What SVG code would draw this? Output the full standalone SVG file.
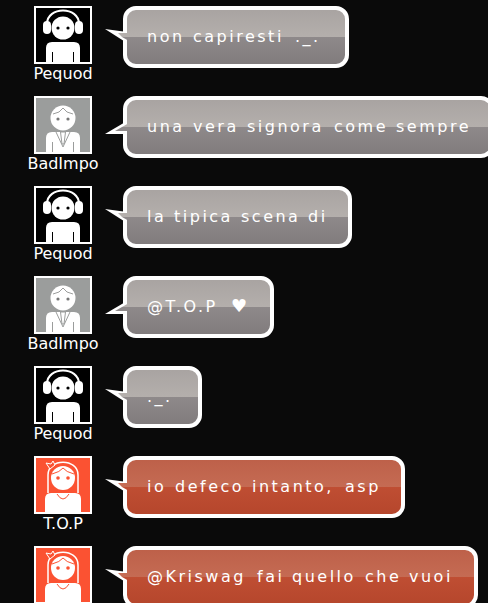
<svg xmlns="http://www.w3.org/2000/svg" width="488" height="603" viewBox="0 0 488 603">
<style>
.name{font:16px "DejaVu Sans",sans-serif;fill:#fff;text-anchor:middle}
.msg{font:16px "DejaVu Sans",sans-serif;fill:#fff;letter-spacing:2.500px}
.edge{stroke:#fff;stroke-width:4}
.gray{fill:url(#g)}
.red{fill:url(#r)}
.frame{stroke:#fff;stroke-width:2}
.gl{fill:#b4afac}.gd{fill:#8e898a}.rl{fill:#c56b53}.rd{fill:#bf4e33}
</style>
<defs>
<linearGradient id="g" x1="0" y1="0" x2="0" y2="1"><stop offset="0" stop-color="#a8a3a1"/><stop offset=".5" stop-color="#b4afac"/><stop offset=".5" stop-color="#8e898a"/><stop offset="1" stop-color="#807b7c"/></linearGradient>
<linearGradient id="r" x1="0" y1="0" x2="0" y2="1"><stop offset="0" stop-color="#bd6049"/><stop offset=".5" stop-color="#c56b53"/><stop offset=".5" stop-color="#bf4e33"/><stop offset="1" stop-color="#b5462c"/></linearGradient>
<g id="pq">
<rect x="35" y="7" width="56" height="56" fill="#000" class="frame"/>
<path d="M47 24C47 6 79 6 79 24" fill="none" stroke="#fff" stroke-width="2"/>
<rect x="43" y="21" width="8" height="13" rx="4" fill="#fff"/><rect x="75" y="21" width="8" height="13" rx="4" fill="#fff"/>
<circle cx="63" cy="28" r="11.500" fill="#fff"/><circle cx="58" cy="28" r="1.600"/><circle cx="68" cy="28" r="1.600"/>
<path d="M46 62V48Q46 42 52 42H74Q80 42 80 48V62Z" fill="#fff"/>
<path d="M52.500 52V62M73.500 52V62" stroke="#000" fill="none"/>
</g>
<g id="bi">
<rect x="35" y="7" width="56" height="56" fill="#9b9d9c" class="frame"/>
<circle cx="63" cy="28" r="12.500" fill="#fff"/><path d="M53 24Q60 23 63 18Q66 23 73 24" fill="none" stroke="#9b9d9c"/><circle cx="58" cy="29" r="1.600" fill="#777"/><circle cx="68" cy="29" r="1.600" fill="#777"/>
<path d="M46 62V48Q46 42 52 42H74Q80 42 80 48V62Z" fill="#fff"/>
<path d="M56 42L63 57L70 42M60.500 42H65.500L64 54H62ZM52.500 52V62M73.500 52V62" stroke="#9b9d9c" fill="none"/>
</g>
<g id="tp">
<rect x="35" y="7" width="56" height="56" fill="#fb5232" class="frame"/>
<path d="M48 43V25C48 8 78 8 78 25V43" fill="none" stroke="#fff" stroke-width="1.500"/>
<path d="M50 19L46 13L51 14L53 11L55 15Z" fill="#fb5232" stroke="#fff"/>
<circle cx="63" cy="28" r="12" fill="#fff"/><path d="M52 24Q60 22 63 18Q66 22 74 24" fill="none" stroke="#fb5232"/><circle cx="58" cy="28" r="1.800" fill="#fb5232"/><circle cx="68" cy="28" r="1.800" fill="#fb5232"/>
<path d="M45 62V49Q45 43 51 43H75Q81 43 81 49V62Z" fill="#fff"/>
<path d="M57 44Q63 54 69 44" fill="none" stroke="#fb5232"/>
</g>
<path id="tl" d="M105 29L127 32V43Z" fill="#fff"/>
<path id="tu" d="M105 44L127 31V44Z" fill="#fff"/>
<g id="lg"><path class="gl" d="M118 33H129V37H122Z"/><path class="gd" d="M122 37H129V41Z"/></g>
<g id="ug"><path class="gl" d="M122 37L129 33V37Z"/><path class="gd" d="M115 41L122 37H129V41Z"/></g>
<g id="lr"><path class="rl" d="M118 33H129V37H122Z"/><path class="rd" d="M122 37H129V41Z"/></g>
</defs>
<rect width="488" height="603" fill="#0a0a0a"/>
<g id="n1"><use href="#pq"/><text class="name" x="63" y="79">Pequod</text>
<use href="#tl"/><rect class="edge gray" x="125" y="8" width="222" height="58" rx="11"/><use href="#lg"/><text class="msg" y="42"><tspan x="147">non</tspan><tspan x="193">capiresti</tspan><tspan x="295">._.</tspan></text></g>
<g id="n2" transform="translate(0,90)"><use href="#bi"/><text class="name" x="63" y="79">BadImpo</text>
<use href="#tu"/><rect class="edge gray" x="125" y="8" width="367" height="58" rx="11"/><use href="#ug"/><text class="msg" y="42"><tspan x="147">una</tspan><tspan x="193">vera</tspan><tspan x="247">signora</tspan><tspan x="334">come</tspan><tspan x="396">sempre</tspan></text></g>
<g id="n3" transform="translate(0,180)"><use href="#pq"/><text class="name" x="63" y="79">Pequod</text>
<use href="#tl"/><rect class="edge gray" x="125" y="8" width="225" height="58" rx="11"/><use href="#lg"/><text class="msg" y="42"><tspan x="147">la</tspan><tspan x="174">tipica</tspan><tspan x="241">scena</tspan><tspan x="308">di</tspan></text></g>
<g id="n4" transform="translate(0,270)"><use href="#bi"/><text class="name" x="63" y="79">BadImpo</text>
<use href="#tu"/><rect class="edge gray" x="125" y="8" width="147" height="58" rx="11"/><use href="#ug"/><text class="msg" y="42"><tspan x="147">@T.O.P</tspan><tspan x="231" font-size="18">♥</tspan></text></g>
<g id="n5" transform="translate(0,360)"><use href="#pq"/><text class="name" x="63" y="79">Pequod</text>
<use href="#tl"/><rect class="edge gray" x="125" y="8" width="75" height="58" rx="11"/><use href="#lg"/><text class="msg" x="147" y="42">._.</text></g>
<g id="n6" transform="translate(0,450)"><use href="#tp"/><text class="name" x="63" y="79">T.O.P</text>
<use href="#tl"/><rect class="edge red" x="125" y="8" width="278" height="58" rx="11"/><use href="#lr"/><text class="msg" y="42"><tspan x="147">io</tspan><tspan x="175">defeco</tspan><tspan x="252">intanto,</tspan><tspan x="345">asp</tspan></text></g>
<g id="n7" transform="translate(0,540)"><use href="#tp"/>
<use href="#tl"/><rect class="edge red" x="125" y="8" width="351" height="58" rx="11"/><use href="#lr"/><text class="msg" y="42"><tspan x="147">@Kriswag</tspan><tspan x="257">fai</tspan><tspan x="292">quello</tspan><tspan x="365">che</tspan><tspan x="409">vuoi</tspan></text></g>
</svg>
